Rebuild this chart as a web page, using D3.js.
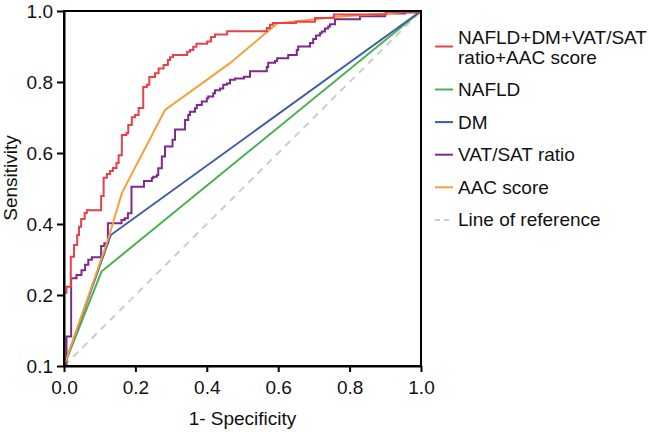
<!DOCTYPE html>
<html>
<head>
<meta charset="utf-8">
<script src="https://cdn.jsdelivr.net/npm/d3@7"></script>
<style>
  body { margin: 0; background: #fff; }
  text { font-family: "Liberation Sans", Arial, Helvetica, sans-serif; }
</style>
</head>
<body>
<svg id="chart" width="649" height="432"></svg>
<script>
// tick values and labels (the bottom label really reads 0.1 in the source)
var xTicks = [0, 0.2, 0.4, 0.6, 0.8, 1.0]
var xTickLabels = ["0.0", "0.2", "0.4", "0.6", "0.8", "1.0"]
var yTicks = [0, 0.2, 0.4, 0.6, 0.8, 1.0]
var yTickLabels = ["0.1", "0.2", "0.4", "0.6", "0.8", "1.0"]

// [1 - specificity, sensitivity]
var combined = [[0,0],[0,0.206],[0.007,0.223],[0.019,0.308],[0.028,0.341],[0.037,0.369],[0.042,0.392],
  [0.048,0.414],[0.058,0.431],[0.064,0.439],[0.104,0.479],[0.111,0.530],[0.120,0.541],[0.129,0.549],
  [0.137,0.558],[0.147,0.572],[0.153,0.594],[0.162,0.651],[0.175,0.656],[0.180,0.679],[0.190,0.701],
  [0.199,0.707],[0.209,0.727],[0.222,0.786],[0.232,0.792],[0.239,0.814],[0.255,0.825],[0.265,0.838],
  [0.279,0.848],[0.291,0.862],[0.297,0.870],[0.305,0.876],[0.345,0.885],[0.353,0.890],[0.362,0.899],
  [0.371,0.908],[0.401,0.914],[0.412,0.927],[0.423,0.934],[0.457,0.943],[0.568,0.952],[0.577,0.961],
  [0.585,0.966],[0.650,0.970],[0.703,0.980],[0.756,0.990],[0.902,0.997],[1,1]]
var nafld = [[0,0],[0.105,0.266],[1,1]]
var dm = [[0,0],[0.131,0.369],[1,1]]
var vatSat = [[0,0],[0.007,0.083],[0.020,0.247],[0.035,0.256],[0.049,0.270],[0.059,0.285],[0.068,0.299],
  [0.078,0.306],[0.104,0.338],[0.113,0.346],[0.123,0.402],[0.161,0.411],[0.170,0.416],[0.179,0.430],
  [0.189,0.505],[0.224,0.521],[0.246,0.529],[0.250,0.533],[0.260,0.538],[0.264,0.557],[0.274,0.590],
  [0.283,0.618],[0.304,0.637],[0.311,0.666],[0.339,0.693],[0.348,0.707],[0.353,0.716],[0.367,0.726],
  [0.372,0.735],[0.386,0.745],[0.400,0.754],[0.404,0.759],[0.418,0.768],[0.423,0.777],[0.437,0.782],
  [0.446,0.792],[0.456,0.796],[0.465,0.806],[0.479,0.810],[0.504,0.815],[0.521,0.830],[0.568,0.842],
  [0.572,0.854],[0.591,0.859],[0.597,0.867],[0.628,0.876],[0.652,0.890],[0.656,0.900],[0.689,0.910],
  [0.698,0.921],[0.706,0.931],[0.717,0.937],[0.722,0.942],[0.731,0.951],[0.740,0.956],[0.745,0.963],
  [0.759,0.977],[0.829,0.985],[0.899,0.993],[0.955,0.996],[1,1]]
var aac = [[0,0],[0.123,0.355],[0.162,0.487],[0.283,0.721],[0.465,0.853],[0.597,0.965],[0.759,0.983],[1,1]]
var reference = [[0,0],[1,1]]

var legendNames = [["NAFLD+DM+VAT/SAT", "ratio+AAC score"], ["NAFLD"], ["DM"], ["VAT/SAT ratio"], ["AAC score"], ["Line of reference"]]

var series = [
  {data: reference, color: "#cccccc", step: false, dash: "7,6"},
  {data: nafld, color: "#4caf50", step: false},
  {data: dm, color: "#3e5ba9", step: false},
  {data: vatSat, color: "#7d2b8b", step: true},
  {data: aac, color: "#f3a13a", step: false},
  {data: combined, color: "#e5424a", step: true}
]
var legendColors = ["#e5424a", "#4caf50", "#3e5ba9", "#7d2b8b", "#f3a13a", "#cccccc"]

var fontSize = 19
var svg = d3.select("#chart")
var x = d3.scaleLinear().domain([0, 1]).range([64, 421])
var y = d3.scaleLinear().domain([0, 1]).range([366, 11])

// lines
var plot = svg.append("g")
series.forEach(s => {
  var gen = d3.line().x(d => x(d[0])).y(d => y(d[1]))
    .curve(s.step ? d3.curveStepAfter : d3.curveLinear)
  plot.append("path")
    .attr("d", gen(s.data))
    .attr("fill", "none")
    .attr("stroke", s.color)
    .attr("stroke-width", 2)
    .attr("stroke-dasharray", s.dash || null)
})

// frame
svg.append("rect")
  .attr("x", x(0)).attr("y", y(1))
  .attr("width", x(1) - x(0)).attr("height", y(0) - y(1))
  .attr("fill", "none").attr("stroke", "#000").attr("stroke-width", 2)

svg.append("g")
  .attr("transform", "translate(0," + y(0) + ")")
  .call(d3.axisBottom(x).tickValues(xTicks).tickFormat((d, i) => xTickLabels[i])
    .tickSize(6).tickSizeOuter(0).tickPadding(9))
svg.append("g")
  .attr("transform", "translate(" + x(0) + ",0)")
  .call(d3.axisLeft(y).tickValues(yTicks).tickFormat((d, i) => yTickLabels[i])
    .tickSize(7).tickSizeOuter(0).tickPadding(4))

svg.selectAll(".domain").attr("stroke-width", 2)
svg.selectAll(".tick line").attr("stroke-width", 2)
svg.selectAll(".tick text").attr("font-size", fontSize).attr("fill", "#111")
  .attr("font-family", "Liberation Sans, Arial, sans-serif")

svg.append("text")
  .attr("x", (x(0) + x(1)) / 2).attr("y", 425)
  .attr("text-anchor", "middle").attr("font-size", fontSize).attr("fill", "#111")
  .text("1- Specificity")
svg.append("text")
  .attr("transform", "translate(16.5,178) rotate(-90)")
  .attr("text-anchor", "middle").attr("font-size", fontSize).attr("fill", "#111")
  .text("Sensitivity")

// legend
var legend = svg.append("g")
var base = 43.5
legendNames.forEach((lines, i) => {
  var markY = lines.length > 1 ? base + 3 : base - 6.5
  legend.append("line")
    .attr("x1", 435).attr("x2", 453).attr("y1", markY).attr("y2", markY)
    .attr("stroke", legendColors[i]).attr("stroke-width", 2)
    .attr("stroke-dasharray", i == 5 ? "5,4" : null)
  lines.forEach((t, j) => {
    legend.append("text")
      .attr("x", 458).attr("y", base + j * 20)
      .attr("font-size", fontSize).attr("fill", "#111")
      .text(t)
  })
  base += lines.length > 1 ? 52.5 : 32.6
})
</script>
</body>
</html>
